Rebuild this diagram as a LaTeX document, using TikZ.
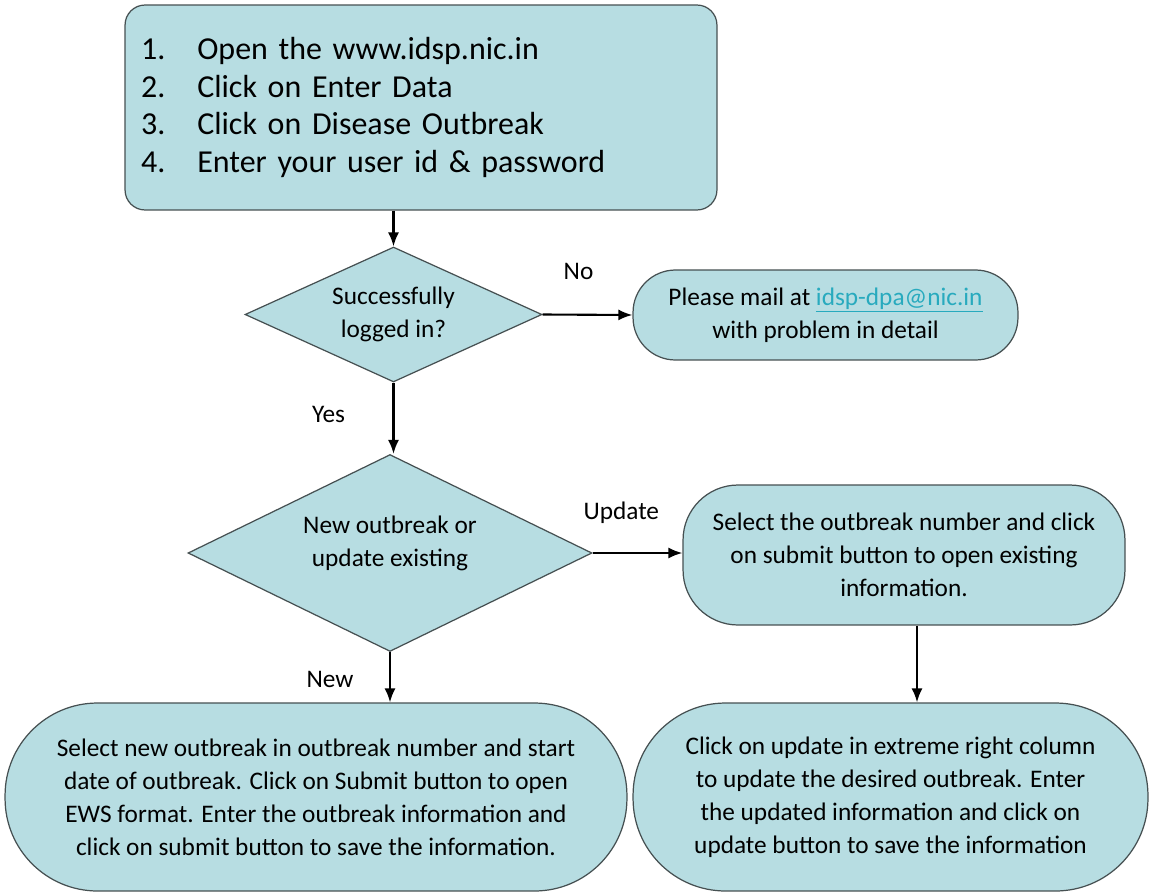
\documentclass[tikz,border=0pt]{standalone}
\usepackage{fontspec}
\setmainfont{Carlito}
\usetikzlibrary{shapes.geometric,arrows.meta}
\definecolor{boxfill}{RGB}{183,221,226}
\definecolor{boxline}{RGB}{70,80,82}
\definecolor{linkcol}{RGB}{40,170,190}
\begin{document}
\begin{tikzpicture}[x=0.02cm,y=-0.02cm,
  base/.style={draw=boxline, line width=0.7pt, fill=boxfill, inner sep=0pt, font=\fontsize{14.4}{18.8}\selectfont, align=center},
  rbox/.style={base, rectangle},
  dbox/.style={base, diamond},
  conn/.style={line width=1.2pt, -{Latex[length=2.8mm,width=2.2mm]}},
  lbl/.style={font=\fontsize{14.4}{18.8}\selectfont, inner sep=0pt, align=center}
]
\useasboundingbox[fill=white] (0,0) rectangle (1155,892);

\node[rbox, rounded corners=0.4cm, minimum width=11.84cm, minimum height=4.1cm,
  text width=11.2cm, align=left, font=\fontsize{18.2}{21.5}\selectfont] (top) at (421,107.5)
  {1.\hspace{0.64cm}Open the www.idsp.nic.in\\
   2.\hspace{0.64cm}Click on Enter Data\\
   3.\hspace{0.64cm}Click on Disease Outbreak\\
   4.\hspace{0.64cm}Enter your user id \& password};

\node[dbox, minimum width=5.94cm, minimum height=2.7cm] (d1) at (393.5,314.5) {};
\node[lbl] (d1t) at (d1.center) {Successfully\\logged in?};

\node[rbox, rounded corners=0.85cm, minimum width=7.7cm, minimum height=1.8cm] (mail) at (825.5,315)
  {Please mail at {\color{linkcol}\underline{idsp-dpa@nic.in}}\\with problem in detail};

\node[dbox, minimum width=8.08cm, minimum height=3.94cm] (d2) at (390,553) {};
\node[lbl] (d2t) at ([yshift=0.2cm]d2.center) {New outbreak or\\update existing};

\node[rbox, rounded corners=1.1cm, minimum width=8.84cm, minimum height=2.8cm] (upd) at (904,555)
  {Select the outbreak number and click\\on submit button to open existing\\information.};

\node[rbox, rounded corners=1.85cm, minimum width=12.44cm, minimum height=3.76cm] (lb) at (316,797)
  {Select new outbreak in outbreak number and start\\date of outbreak. Click on Submit button to open\\EWS format. Enter the outbreak information and\\click on submit button to save the information.};

\node[rbox, rounded corners=1.85cm, minimum width=10.3cm, minimum height=3.76cm] (rb) at (890.5,797)
  {Click on update in extreme right column\\to update the desired outbreak. Enter\\the updated information and click on\\update button to save the information};

\draw[conn] (d1.north |- top.south) -- (d1.north);
\draw[conn] (d1.east) -- node[lbl, pos=0.4, yshift=0.86cm]{No} (mail.west);
\draw[conn] (d1.south) -- node[lbl, pos=0.45, xshift=-1.3cm]{Yes} (d1.south |- d2.north);
\draw[conn] (d2.east) -- node[lbl, pos=0.32, yshift=0.8cm]{Update} (upd.west |- d2.east);
\draw[conn] ([xshift=0.26cm]upd.south) -- ([xshift=0.26cm]upd.south |- rb.north);
\draw[conn] (d2.south) -- node[lbl, pos=0.55, xshift=-1.2cm]{New} (d2.south |- lb.north);
\end{tikzpicture}
\end{document}
